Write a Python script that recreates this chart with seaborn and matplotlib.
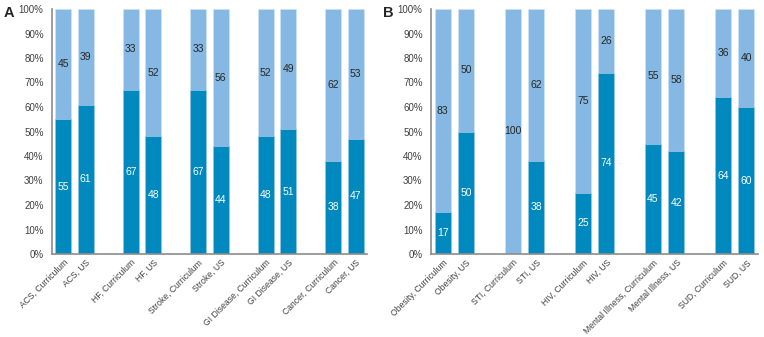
import numpy as np
import pandas as pd
import matplotlib
matplotlib.use("Agg")
import matplotlib.pyplot as plt
import seaborn as sns

# Panel A data
a_labels = ["ACS, Curriculum", "ACS, US", "HF, Curriculum", "HF, US",
            "Stroke, Curriculum", "Stroke, US", "GI Disease, Curriculum", "GI Disease, US",
            "Cancer, Curriculum", "Cancer, US"]
a_dark = [55, 61, 67, 48, 67, 44, 48, 51, 38, 47]
a_light = [45, 39, 33, 52, 33, 56, 52, 49, 62, 53]

# Panel B data
b_labels = ["Obesity, Curriculum", "Obesity, US", "STI, Curriculum", "STI, US",
            "HIV, Curriculum", "HIV, US", "Mental Illness, Curriculum", "Mental Illness, US",
            "SUD, Curriculum", "SUD, US"]
b_dark = [17, 50, 0, 38, 25, 74, 45, 42, 64, 60]
b_light = [83, 50, 100, 62, 75, 26, 55, 58, 36, 40]

DARK = "#0089bf"
LIGHT = "#85b9e3"

sns.set_style("white")
plt.rcParams['font.family'] = ['Liberation Sans', 'DejaVu Sans']

fig = plt.figure(figsize=(7.64, 3.37), dpi=100)
ax_a = fig.add_axes([52 / 764, 83 / 337, 315 / 764, 245 / 337])
ax_b = fig.add_axes([431 / 764, 83 / 337, 327 / 764, 245 / 337])


def draw_panel(ax, labels, dark, light, letter, lx):
    # pairs of bars with a gap of one slot between groups
    pos = [i // 2 * 3 + i % 2 for i in range(len(labels))]
    df = pd.DataFrame({"pos": pos, "label": labels, "dark": dark, "light": light})
    df["total"] = df["dark"] + df["light"]

    sns.barplot(data=df, x="pos", y="total", native_scale=True, width=0.7,
                color=LIGHT, saturation=1, edgecolor="#cfe3f3", linewidth=0.5, ax=ax)
    sns.barplot(data=df, x="pos", y="dark", native_scale=True, width=0.7,
                color=DARK, saturation=1, edgecolor="#9fcbe6", linewidth=0.5, ax=ax)

    for _, r in df.iterrows():
        if r["dark"] > 0:
            ax.text(r["pos"], r["dark"] / 2, f"{r['dark']}", ha="center", va="center",
                    color="white", fontsize=7.5)
        if r["light"] > 0:
            ax.text(r["pos"], r["dark"] + r["light"] / 2, f"{r['light']}", ha="center",
                    va="center", color="#262626", fontsize=7.5)

    ax.set_xlim(-0.5, 13.5)
    ax.set_ylim(0, 100)
    ax.set_yticks(range(0, 101, 10))
    ax.set_yticklabels([f"{v}%" for v in range(0, 101, 10)], fontsize=7, color="#404040")
    ax.set_xticks(pos)
    ax.set_xticklabels(labels, rotation=45, ha="right", rotation_mode="anchor",
                       fontsize=6.2, color="#404040")
    ax.tick_params(axis="y", length=0, pad=6)
    ax.tick_params(axis="x", length=0, pad=3)
    ax.set_xlabel("")
    ax.set_ylabel("")
    sns.despine(ax=ax)
    for s in ["left", "bottom"]:
        ax.spines[s].set_color("#8c8c8c")
        ax.spines[s].set_linewidth(1.2)
    ax.text(lx, 0.985, letter, transform=ax.transAxes, fontsize=10.5,
            fontweight="bold", va="center", ha="left")


draw_panel(ax_a, a_labels, a_dark, a_light, "A", -0.152)
draw_panel(ax_b, b_labels, b_dark, b_light, "B", -0.148)

fig.savefig("out.png", dpi=100)
